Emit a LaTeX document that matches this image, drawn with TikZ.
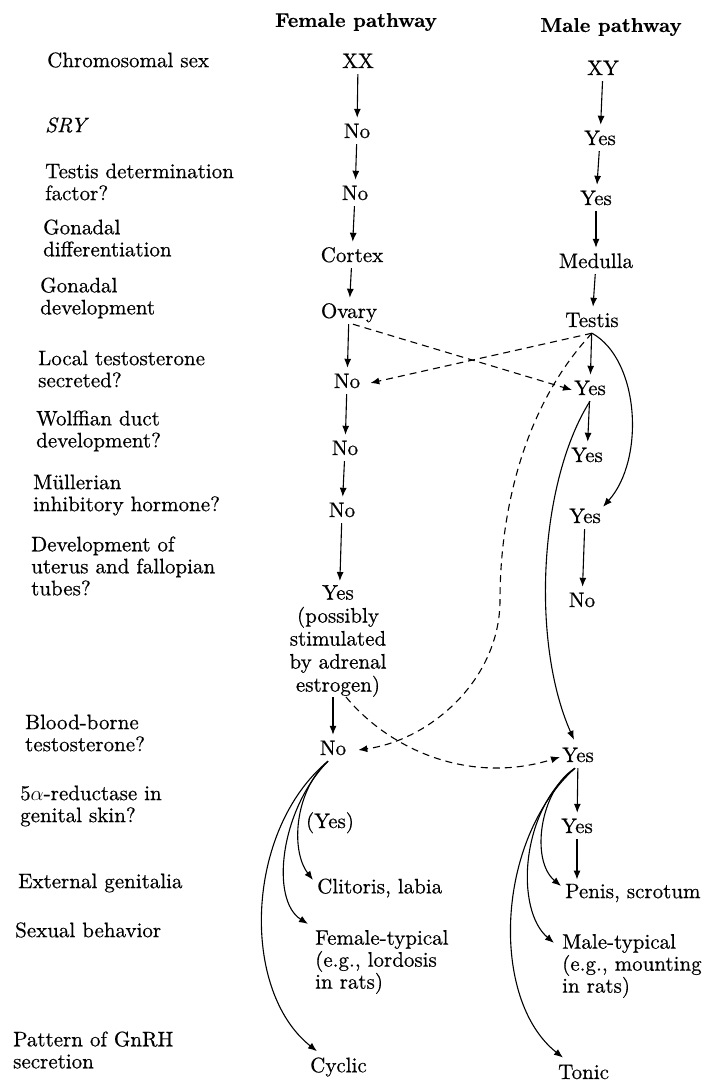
\documentclass[tikz,border=0pt]{standalone}
\usepackage{fontspec}
\setmainfont{lmroman10-regular.otf}[BoldFont=lmroman10-bold.otf,ItalicFont=lmroman10-italic.otf,BoldItalicFont=lmroman10-bolditalic.otf,FakeBold=0.5]
\usetikzlibrary{arrows.meta}
\begin{document}
\begin{tikzpicture}[x=1pt,y=-1pt,
  val/.style={font=\fontsize{21}{22}\selectfont, inner sep=2pt, text height=14pt, text depth=4pt},
  lab/.style={font=\fontsize{21}{22}\selectfont, inner sep=0pt, anchor=west, align=left},
  hdr/.style={font=\bfseries\fontsize{20}{22}\selectfont, inner sep=0pt},
  arr/.style={-{Latex[length=9pt,width=7pt]}, line width=1.1pt},
  sarr/.style={arr, shorten >=4pt},
  darr/.style={arr, dash pattern=on 7pt off 5pt}]
\useasboundingbox[fill=white] (0,0) rectangle (704,1082);

% headers
\node[hdr] (hf) at (356,22) {Female pathway};
\node[hdr] (hm) at (611,27) {Male pathway};

% row labels
\node[lab] (l1) at (47,60) {Chromosomal sex};
\node[lab] (l2) at (45,125) {\textit{SRY}};
\node[lab] (l3) at (45,182) {Testis determination\\factor?};
\node[lab] (l4) at (43,238) {Gonadal\\differentiation};
\node[lab] (l5) at (40,298) {Gonadal\\development};
\node[lab] (l6) at (38,369) {Local testosterone\\secreted?};
\node[lab] (l7) at (36,431) {Wolffian duct\\development?};
\node[lab] (l8) at (33,495) {Müllerian\\inhibitory hormone?};
\node[lab] (l9) at (31,566) {Development of\\uterus and fallopian\\tubes?};
\node[lab] (l10) at (25,733) {Blood-borne\\testosterone?};
\node[lab] (l11) at (20,806) {5$\alpha$-reductase in\\genital skin?};
\node[lab] (l12) at (18,883) {External genitalia};
\node[lab] (l13) at (15,930) {Sexual behavior};
\node[lab] (l14) at (13,1050) {Pattern of GnRH\\secretion};

% female pathway
\node[val] (fxx) at (358,63) {XX};
\node[val] (fsry) at (357,133) {No};
\node[val] (ftdf) at (355,195) {No};
\node[val] (fcor) at (352,257) {Cortex};
\node[val] (fova) at (349,313) {Ovary};
\node[val] (floc) at (347,383) {No};
\node[val] (fwol) at (345,450) {No};
\node[val] (fmul) at (342,512) {No};
\node[lab, anchor=center, align=center, font=\fontsize{21}{23}\selectfont] (futr) at (338,641) {Yes\\(possibly\\stimulated\\by adrenal\\estrogen)};
\node[val] (fbb) at (333,750) {No};
\node[val] (f5a) at (330,823) {(Yes)};
\node[lab] (fext) at (317,888) {Clitoris, labia};
\node[lab] (fsex) at (315,962) {Female-typical\\(e.g., lordosis\\in rats)};
\node[lab] (fgn) at (310,1067) {Cyclic};

% male pathway
\node[val] (mxy) at (603,70) {XY};
\node[val] (msry) at (600,140) {Yes};
\node[val] (mtdf) at (596,200) {Yes};
\node[val] (mmed) at (596,263) {Medulla};
\node[val] (mtes) at (592,322) {Testis};
\node[val] (mloc) at (590,390) {Yes};
\node[val] (mwol) at (587,457) {Yes};
\node[val] (mmul) at (585,518) {Yes};
\node[val] (mutr) at (582,602) {No};
\node[val] (mbb) at (578,757) {Yes};
\node[val] (m5a) at (577,828) {Yes};
\node[lab] (mext) at (565,893) {Penis, scrotum};
\node[lab] (msex) at (562,966) {Male-typical\\(e.g., mounting\\in rats)};
\node[lab] (mgn) at (558,1072) {Tonic};

% female straight arrows
\draw[sarr] (fxx) -- (fsry);
\draw[sarr] (fsry) -- (ftdf);
\draw[sarr] (ftdf) -- (fcor);
\draw[sarr] (fcor) -- (fova);
\draw[sarr] (fova) -- (floc);
\draw[sarr] (floc) -- (fwol);
\draw[sarr] (fwol) -- (fmul);
\draw[sarr] (fmul) -- (futr);
\draw[sarr] (futr.south -| fbb.north) -- (fbb);

% male straight arrows
\draw[sarr] (mxy) -- (msry);
\draw[sarr] (msry) -- (mtdf);
\draw[sarr] (mtdf) -- (mmed);
\draw[sarr] (mmed) -- (mtes);
\draw[sarr] (mtes) -- (mloc);
\draw[sarr] (mloc) -- (mwol);
\draw[sarr] (mmul) -- (mutr);
\draw[sarr] (mbb) -- (m5a);
\draw[sarr] (m5a.south) -- (m5a.south |- mext.north);

% male curved arrows
\draw[arr] (mtes.south) .. controls (640,360) and (645,460) .. (mmul.north east);
\draw[arr] (mloc.south) .. controls (540,480) and (530,640) .. ([xshift=-4pt,yshift=6pt]mbb.north);

% dashed arrows
\draw[darr] ([xshift=4pt]fova.south) -- (mloc.west);
\draw[darr] (mtes.south) -- ([xshift=8pt]floc.east);
\draw[darr] (mtes.south) .. controls (520,410) and (500,520) .. (500,600)
  .. controls (500,680) and (430,740) .. ([xshift=10pt]fbb.east);
\draw[darr] ([xshift=8pt]futr.south) .. controls (390,750) and (470,785) .. (mbb.west);

% female fan
\draw[arr] ([xshift=-5pt]fbb.south) .. controls (295,790) and (290,850) .. ([xshift=-4pt,yshift=8pt]fext.west);
\draw[arr] ([xshift=-5pt]fbb.south) .. controls (280,810) and (270,900) .. ([xshift=-7pt,yshift=6pt]fsex.north west);
\draw[arr] ([xshift=-5pt]fbb.south) .. controls (245,830) and (240,990) .. ([xshift=7pt,yshift=6pt]fgn.north west);

% male fan
\draw[arr] ([xshift=-3pt]mbb.south) .. controls (540,790) and (530,860) .. ([xshift=-4pt,yshift=7pt]mext.west);
\draw[arr] ([xshift=-3pt]mbb.south) .. controls (520,810) and (515,910) .. ([xshift=-8pt,yshift=-9pt]msex.north west);
\draw[arr] ([xshift=-3pt]mbb.south) .. controls (495,840) and (490,1000) .. ([xshift=5pt,yshift=7pt]mgn.north west);
\end{tikzpicture}
\end{document}
